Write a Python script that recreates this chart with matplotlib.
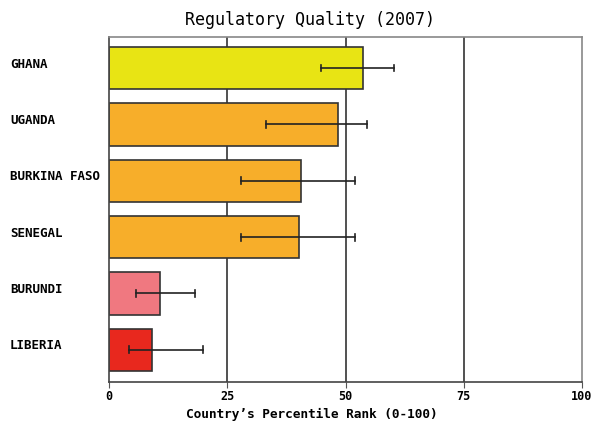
import numpy as np
import matplotlib
import matplotlib.pyplot as plt
from matplotlib.transforms import ScaledTranslation
matplotlib.use('Agg')

plt.rcParams['font.family'] = ['DejaVu Sans Mono']

countries = ["GHANA", "UGANDA", "BURKINA FASO", "SENEGAL", "BURUNDI", "LIBERIA"]
rank = [53.7, 48.4, 40.6, 40.2, 10.8, 9.1]
err_low = [44.8, 33.2, 27.9, 27.9, 5.7, 4.2]
err_high = [60.3, 54.5, 52.0, 52.0, 18.2, 19.9]
colors = ["#e8e414", "#f7ae2a", "#f7ae2a", "#f7ae2a", "#f07880", "#e8281e"]
ticks = [0, 25, 50, 75, 100]

fig = plt.figure(figsize=(5.94, 4.23), dpi=100)
ax = fig.add_axes([109/594, 1 - 382/423, (582-109)/594, (382-37)/423])

y = np.arange(len(countries))
ax.barh(y, rank, height=0.75, color=colors, edgecolor="#333333", linewidth=1.2, zorder=2)
for yi, lo, hi in zip(y, err_low, err_high):
    ax.plot([lo, hi], [yi, yi], color="#222222", lw=1.2, zorder=3)
    ax.plot([lo, lo], [yi - 0.06, yi + 0.06], color="#222222", lw=1.2, zorder=3)
    ax.plot([hi, hi], [yi - 0.06, yi + 0.06], color="#222222", lw=1.2, zorder=3)

ax.set_xlim(0, 100)
ax.set_ylim(5.57, -0.55)
ax.set_xticks(ticks)
ax.set_xticklabels([str(t) for t in ticks], fontweight="bold", fontsize=8.5)
ax.set_yticks([])

# country names, left aligned and nudged up a little like the original
shift = ScaledTranslation(0, 0.04, fig.dpi_scale_trans)
for yi, name in zip(y, countries):
    ax.text(-99/473, yi, name, transform=ax.get_yaxis_transform() + shift,
            ha="left", va="center", fontweight="bold", fontsize=9)

ax.tick_params(axis="x", length=4, color="#555555", pad=2)
for t in ticks[1:-1]:
    ax.axvline(t, color="#333333", lw=1.2, zorder=1)
for s in ax.spines.values():
    s.set_color("#888888")
    s.set_linewidth(1.2)
ax.spines["bottom"].set_color("#444444")
ax.spines["left"].set_color("#444444")

fig.text(312/594, 1 - 414/423, "Country\u2019s Percentile Rank (0-100)", fontweight="bold",
         fontsize=9.2, ha="center", va="center")
fig.text(310/594, 1 - 20/423, "Regulatory Quality (2007)", fontsize=12, ha="center", va="center")

fig.savefig("out.png")
